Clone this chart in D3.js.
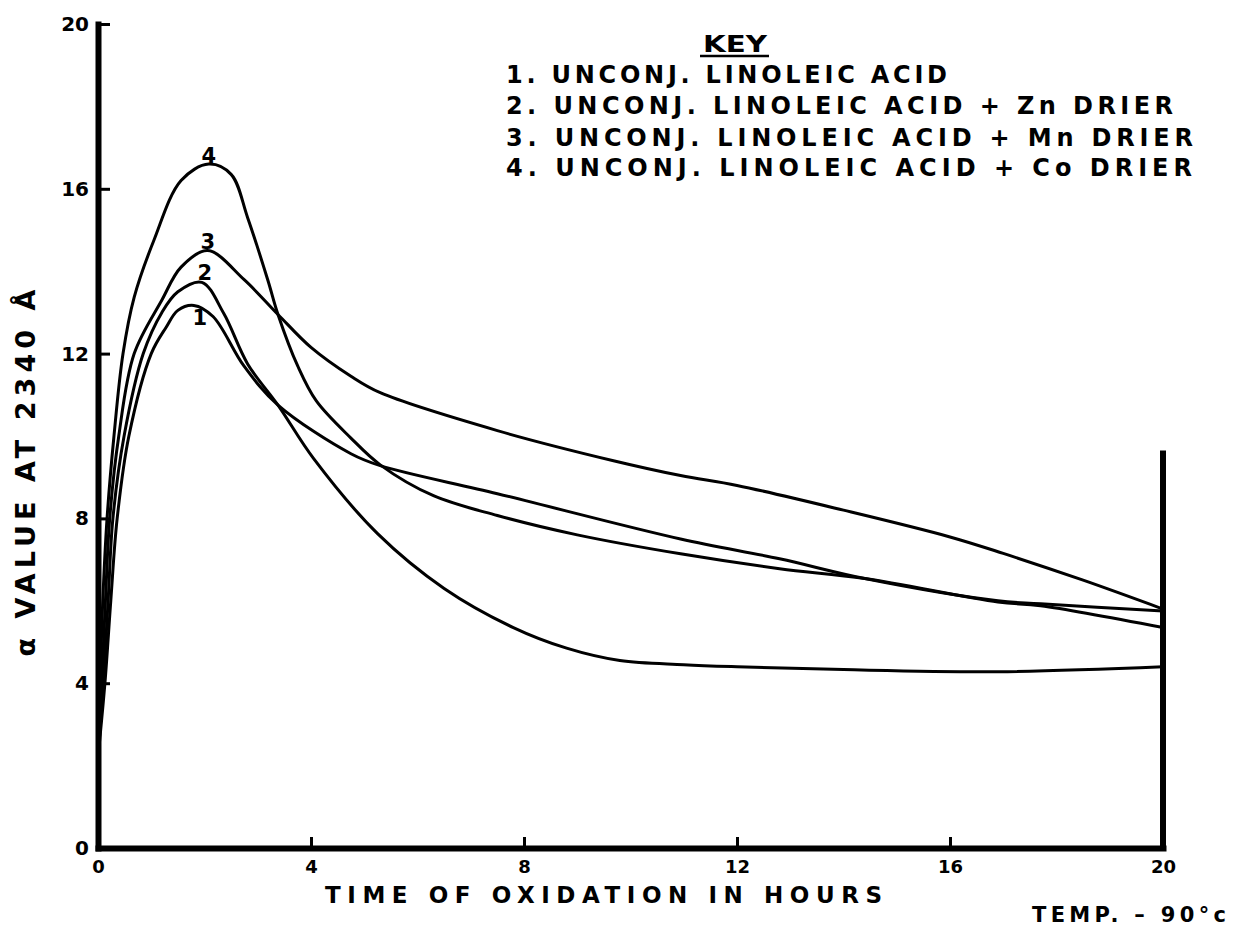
<!DOCTYPE html>
<html>
<head>
<meta charset="utf-8">
<script src="https://cdn.jsdelivr.net/npm/d3@7"></script>
<style>
  html, body { margin: 0; padding: 0; background: #fff; }
  svg { display: block; }
  text { font-family: "DejaVu Sans", sans-serif; font-weight: bold; fill: #000; }
</style>
</head>
<body>
<svg id="chart" width="1236" height="927"></svg>
<script>
// values (hours, alpha value at 2340 A)
const curve1Hours = [0, 0.13, 0.24, 0.36, 0.58, 1.0, 1.28, 1.5, 1.8, 2.16, 2.74, 3.38, 4.75, 5.3, 7.5, 10.94, 12.8, 14.4, 16.9, 17.7, 20];
const curve1Values = [2.2, 4, 6, 8, 10, 12, 12.64, 13.05, 13.17, 12.9, 11.7, 10.75, 9.57, 9.28, 8.6, 7.5, 7.02, 6.54, 6.0, 5.93, 5.75];

const curve2Hours = [0, 0.1, 0.19, 0.28, 0.49, 0.85, 1.2, 1.5, 1.95, 2.36, 2.81, 3.38, 4.05, 5.25, 6.5, 7.8, 8.8, 9.8, 11, 12, 14, 16.9, 20];
const curve2Values = [2.2, 4, 6, 8, 10, 12, 13.0, 13.5, 13.73, 12.98, 11.75, 10.75, 9.45, 7.63, 6.3, 5.35, 4.85, 4.55, 4.45, 4.4, 4.33, 4.28, 4.4];

const curve3Hours = [0, 0.07, 0.14, 0.22, 0.39, 0.68, 1.2, 1.56, 2.06, 2.74, 3.38, 4.0, 4.75, 5.3, 7.5, 9.68, 10.94, 12, 14, 16, 17, 18.5, 20];
const curve3Values = [2.2, 4, 6, 8, 10, 12, 13.3, 14.1, 14.5, 13.8, 12.95, 12.15, 11.45, 11.05, 10.13, 9.4, 9.04, 8.8, 8.2, 7.55, 7.15, 6.5, 5.8];

const curve4Hours = [0, 0.04, 0.09, 0.17, 0.3, 0.47, 0.68, 1.05, 1.56, 2.08, 2.5, 2.81, 3.19, 3.38, 3.75, 4.1, 4.75, 5.3, 6.3, 7.5, 9, 10.94, 12.8, 14.4, 16.9, 17.7, 20];
const curve4Values = [2.2, 4, 6, 8, 10, 12, 13.37, 14.75, 16.2, 16.6, 16.35, 15.3, 13.78, 12.95, 11.7, 10.85, 9.95, 9.3, 8.55, 8.07, 7.6, 7.14, 6.78, 6.54, 5.97, 5.88, 5.35];

const curveIds = ["1", "2", "3", "4"];
const keyTitle = "KEY";
const keyLines = [
  "1. UNCONJ. LINOLEIC ACID",
  "2. UNCONJ. LINOLEIC ACID + Zn DRIER",
  "3. UNCONJ. LINOLEIC ACID + Mn DRIER",
  "4. UNCONJ. LINOLEIC ACID + Co DRIER",
];
const xTicks = [0, 4, 8, 12, 16, 20];
const yTicks = [0, 4, 8, 12, 16, 20];
const xTitle = "TIME OF OXIDATION IN HOURS";
const yTitle = "\u03B1 VALUE AT 2340 \u00C5";
const tempNote = "TEMP. \u2013 90\u00B0c";
const rightWallTop = 9.65; // height of the closing line at 20 hours

const curves = [
  { id: curveIds[0], hours: curve1Hours, values: curve1Values },
  { id: curveIds[1], hours: curve2Hours, values: curve2Values },
  { id: curveIds[2], hours: curve3Hours, values: curve3Values },
  { id: curveIds[3], hours: curve4Hours, values: curve4Values },
];

const svg = d3.select("#chart");

const x = d3.scaleLinear().domain([0, 20]).range([98, 1163]);
const y = d3.scaleLinear().domain([0, 20]).range([848, 24]);

// axes: ticks point inward like the hand-drawn original
const yAxis = d3.axisLeft(y)
  .tickValues(yTicks)
  .tickSizeInner(-12)
  .tickSizeOuter(0)
  .tickPadding(9)
  .tickFormat(d3.format("d"));

const xAxis = d3.axisBottom(x)
  .tickValues(xTicks)
  .tickSizeInner(-11)
  .tickSizeOuter(0)
  .tickPadding(12)
  .tickFormat(d3.format("d"));

const gy = svg.append("g").attr("transform", `translate(${x(0)},0)`).call(yAxis);
const gx = svg.append("g").attr("transform", `translate(0,${y(0)})`).call(xAxis);

[gy, gx].forEach((g) => {
  g.select(".domain").attr("stroke", "#000").attr("stroke-width", 6).attr("stroke-linecap", "square");
  g.selectAll(".tick line").attr("stroke", "#000").attr("stroke-width", 3);
  g.selectAll(".tick text")
    .attr("fill", "#000")
    .style("font-family", "\"DejaVu Sans\", sans-serif")
    .style("font-weight", "bold");
});
gy.selectAll(".tick text").style("font-size", "20px");
gx.selectAll(".tick text").style("font-size", "18px");
// no tick marks at the axis ends
gy.selectAll(".tick").filter((d) => d === 0).select("line").remove();
gx.selectAll(".tick").filter((d) => d === 0 || d === 20).select("line").remove();

// closing line at 20 hours
svg.append("line")
  .attr("x1", x(20)).attr("x2", x(20))
  .attr("y1", y(0)).attr("y2", y(rightWallTop))
  .attr("stroke", "#000")
  .attr("stroke-width", 6);

const line = d3.line()
  .x((d) => x(d[0]))
  .y((d) => y(d[1]))
  .curve(d3.curveCatmullRom.alpha(0.5));

svg.append("g")
  .selectAll("path")
  .data(curves)
  .join("path")
  .attr("d", (c) => line(d3.zip(c.hours, c.values)))
  .attr("fill", "none")
  .attr("stroke", "#000")
  .attr("stroke-width", 3)
  .attr("stroke-linejoin", "round");

// curve numbers at each peak
const labelShift = { "1": [6, 20], "2": [3, -2], "3": [0, -2], "4": [0, -1] };
svg.append("g")
  .selectAll("text")
  .data(curves)
  .join("text")
  .each(function (c) {
    const i = d3.maxIndex(c.values);
    const [dx, dy] = labelShift[c.id];
    d3.select(this)
      .attr("x", x(c.hours[i]) + dx)
      .attr("y", y(c.values[i]) + dy);
  })
  .attr("text-anchor", "middle")
  .style("font-size", "21px")
  .text((c) => c.id);

// key
svg.append("text")
  .attr("x", 703).attr("y", 52)
  .attr("textLength", 64).attr("lengthAdjust", "spacingAndGlyphs")
  .style("font-size", "23px")
  .text(keyTitle);
svg.append("line")
  .attr("x1", 700).attr("x2", 769)
  .attr("y1", 56).attr("y2", 56)
  .attr("stroke", "#000").attr("stroke-width", 2.5);

const keyEnds = [947, 1173, 1193, 1192];
const keyBase = [83, 114, 146, 176];
svg.append("g")
  .selectAll("text")
  .data(keyLines)
  .join("text")
  .attr("x", 506)
  .attr("y", (d, i) => keyBase[i])
  .attr("textLength", (d, i) => keyEnds[i] - 506)
  .attr("lengthAdjust", "spacing")
  .style("font-size", "24px")
  .text((d) => d);

// axis titles
svg.append("text")
  .attr("x", 325).attr("y", 903)
  .attr("textLength", 557).attr("lengthAdjust", "spacing")
  .style("font-size", "23px")
  .text(xTitle);

svg.append("text")
  .attr("transform", "translate(35,473) rotate(-90)")
  .attr("text-anchor", "middle")
  .attr("textLength", 367).attr("lengthAdjust", "spacing")
  .style("font-size", "27px")
  .text(yTitle);

svg.append("text")
  .attr("x", 1032).attr("y", 922)
  .attr("textLength", 194).attr("lengthAdjust", "spacing")
  .style("font-size", "21px")
  .text(tempNote);
</script>
</body>
</html>
